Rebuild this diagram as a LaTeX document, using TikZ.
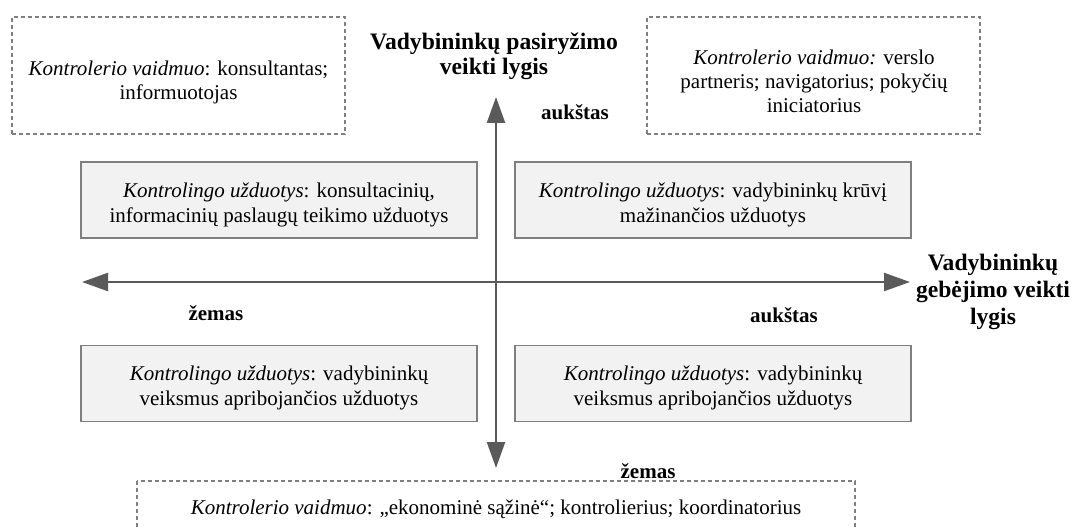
\documentclass[tikz,border=0pt]{standalone}
\usepackage{fontspec}
\setmainfont{Liberation Serif}
\usetikzlibrary{arrows.meta}
\definecolor{axisgray}{HTML}{5A5A5A}
\definecolor{boxgray}{HTML}{7F7F7F}
\definecolor{boxfill}{HTML}{F2F2F2}
\definecolor{dashgray}{HTML}{7F7F7F}
\begin{document}
\begin{tikzpicture}[x=0.5pt,y=-0.5pt,
  taskbox/.style={draw=boxgray, fill=boxfill, line width=0.9pt,
    minimum width=198pt, minimum height=38pt, inner sep=0pt},
  tasktext/.style={align=center, inner sep=0pt,
    font=\fontsize{10.5}{12.8}\selectfont},
  rolebox/.style={draw=dashgray, line width=0.8pt, dash pattern=on 2pt off 1.5pt,
    minimum width=166.5pt, minimum height=58.5pt, inner sep=0pt},
  roletext/.style={align=center, inner sep=0pt,
    font=\fontsize{10.5}{12}\selectfont},
  axisline/.style={draw=axisgray, line width=1.2pt,
    {Triangle[length=13pt,width=9pt]}-{Triangle[length=13pt,width=9pt]}},
  titletext/.style={align=center, inner sep=0pt,
    font=\bfseries\fontsize{11.8}{12.5}\selectfont},
  lvltext/.style={inner sep=0pt, font=\bfseries\fontsize{10.5}{12}\selectfont}]
\useasboundingbox (0,0) rectangle (1079,529);
\clip (0,0) rectangle (1079,529);

% role boxes (top)
\node[rolebox] (roleTL) at (178.5,75.5) {};
\node[roletext] (roleTLtext) at (178.5,82) {\textit{Kontrolerio vaidmuo}: konsultantas;\\informuotojas};
\node[rolebox] (roleTR) at (813.5,75.5) {};
\node[roletext] (roleTRtext) at (814,81) {\textit{Kontrolerio vaidmuo:} verslo\\partneris; navigatorius; pokyčių\\iniciatorius};

% task boxes
\node[taskbox] (taskTL) at (279,200) {};
\node[tasktext] (taskTLtext) at (279,205) {\textit{Kontrolingo užduotys}: konsultacinių,\\informacinių paslaugų teikimo užduotys};
\node[taskbox] (taskTR) at (713,200) {};
\node[tasktext] (taskTRtext) at (713,205) {\textit{Kontrolingo užduotys}: vadybininkų krūvį\\mažinančios užduotys};
\node[taskbox] (taskBL) at (279,383.5) {};
\node[tasktext] (taskBLtext) at (279,388) {\textit{Kontrolingo užduotys}: vadybininkų\\veiksmus apribojančios užduotys};
\node[taskbox] (taskBR) at (713,383.5) {};
\node[tasktext] (taskBRtext) at (713,388) {\textit{Kontrolingo užduotys}: vadybininkų\\veiksmus apribojančios užduotys};

% axes
\coordinate (L) at (82,282);
\coordinate (R) at (910,282);
\coordinate (T) at (496,97);
\coordinate (B) at (496,468);
\draw[axisline] (L) -- (R);
\draw[axisline] (T) -- (B);

% axis titles
\node[titletext] (ytitle) at (494,56) {Vadybininkų pasiryžimo\\veikti lygis};
\node[titletext, font=\bfseries\fontsize{11.8}{13.6}\selectfont] (xtitle) at (993,292) {Vadybininkų\\gebėjimo veikti\\lygis};

% level labels
\node[lvltext] (yhigh) at (575,112) {aukštas};
\node[lvltext] (xlow) at (216,313) {žemas};
\node[lvltext] (xhigh) at (784,315) {aukštas};
\node[lvltext] (ylow) at (648,471) {žemas};

% bottom role box
\draw[draw=dashgray, line width=0.8pt, dash pattern=on 2pt off 1.5pt] (137,481) rectangle (855,600);
\node[roletext] (roleB) at (496,509) {\textit{Kontrolerio vaidmuo}: „ekonominė sąžinė“; kontrolierius; koordinatorius};
\end{tikzpicture}
\end{document}
